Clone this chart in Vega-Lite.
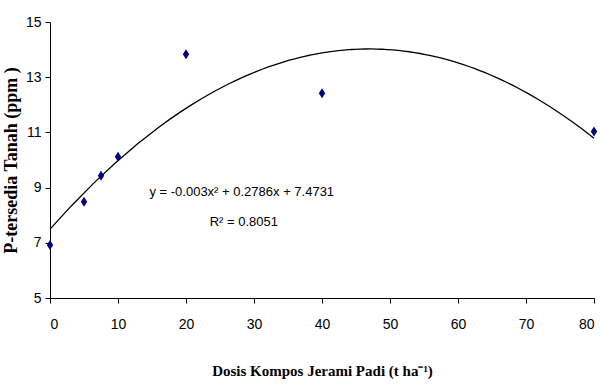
{
  "$schema": "https://vega.github.io/schema/vega-lite/v6.json",
  "width": 544,
  "height": 276,
  "autosize": {"type": "none"},
  "padding": {"left": 50, "top": 22, "right": 6, "bottom": 88},
  "background": "white",
  "config": {
    "view": {"stroke": null},
    "axis": {
      "grid": false,
      "domainColor": "#000000",
      "tickColor": "#000000",
      "labelColor": "#000000",
      "labelFont": "Liberation Sans",
      "labelFontWeight": "normal",
      "labelFontSize": 14,
      "titleFont": "Liberation Serif",
      "titleFontWeight": "bold",
      "titleColor": "#000000",
      "tickSize": 5
    }
  },
  "datasets": {
    "obs": [
      {"dosis": 0, "p": 6.92},
      {"dosis": 5, "p": 8.49},
      {"dosis": 7.5, "p": 9.43},
      {"dosis": 10, "p": 10.12},
      {"dosis": 20, "p": 13.83},
      {"dosis": 40, "p": 12.42},
      {"dosis": 80, "p": 11.03}
    ],
    "notes": [
      {"label": "y = -0.003x² + 0.2786x + 7.4731", "nx": 28.2, "ny": 8.84},
      {"label": "R² = 0.8051", "nx": 28.5, "ny": 7.75}
    ]
  },
  "layer": [
    {
      "data": {"name": "obs"},
      "transform": [
        {"regression": "p", "on": "dosis", "method": "poly", "order": 2}
      ],
      "mark": {"type": "line", "color": "#000000", "strokeWidth": 1.3},
      "encoding": {
        "x": {
          "field": "dosis",
          "type": "quantitative",
          "scale": {"domain": [0, 80], "nice": false},
          "axis": {
            "values": [0, 10, 20, 30, 40, 50, 60, 70, 80],
            "labelPadding": 14,
            "title": "Dosis Kompos Jerami Padi (t ha⁻¹)",
            "titleFontSize": 15,
            "titlePadding": 32
          }
        },
        "y": {
          "field": "p",
          "type": "quantitative",
          "scale": {"domain": [5, 15], "nice": false, "zero": false},
          "axis": {
            "values": [5, 7, 9, 11, 13, 15],
            "labelPadding": 4,
            "title": "P-tersedia Tanah (ppm )",
            "titleFontSize": 18,
            "titlePadding": 5
          }
        }
      }
    },
    {
      "data": {"name": "obs"},
      "mark": {
        "type": "point",
        "filled": true,
        "opacity": 1,
        "color": "#000080",
        "shape": "M0,-1L0.64,0L0,1L-0.64,0Z",
        "size": 100
      },
      "encoding": {
        "x": {"field": "dosis", "type": "quantitative"},
        "y": {"field": "p", "type": "quantitative"}
      }
    },
    {
      "data": {"name": "notes"},
      "mark": {
        "type": "text",
        "font": "Liberation Sans",
        "fontSize": 13,
        "color": "#000000",
        "align": "center",
        "baseline": "middle"
      },
      "encoding": {
        "x": {"field": "nx", "type": "quantitative"},
        "y": {"field": "ny", "type": "quantitative"},
        "text": {"field": "label"}
      }
    }
  ]
}
